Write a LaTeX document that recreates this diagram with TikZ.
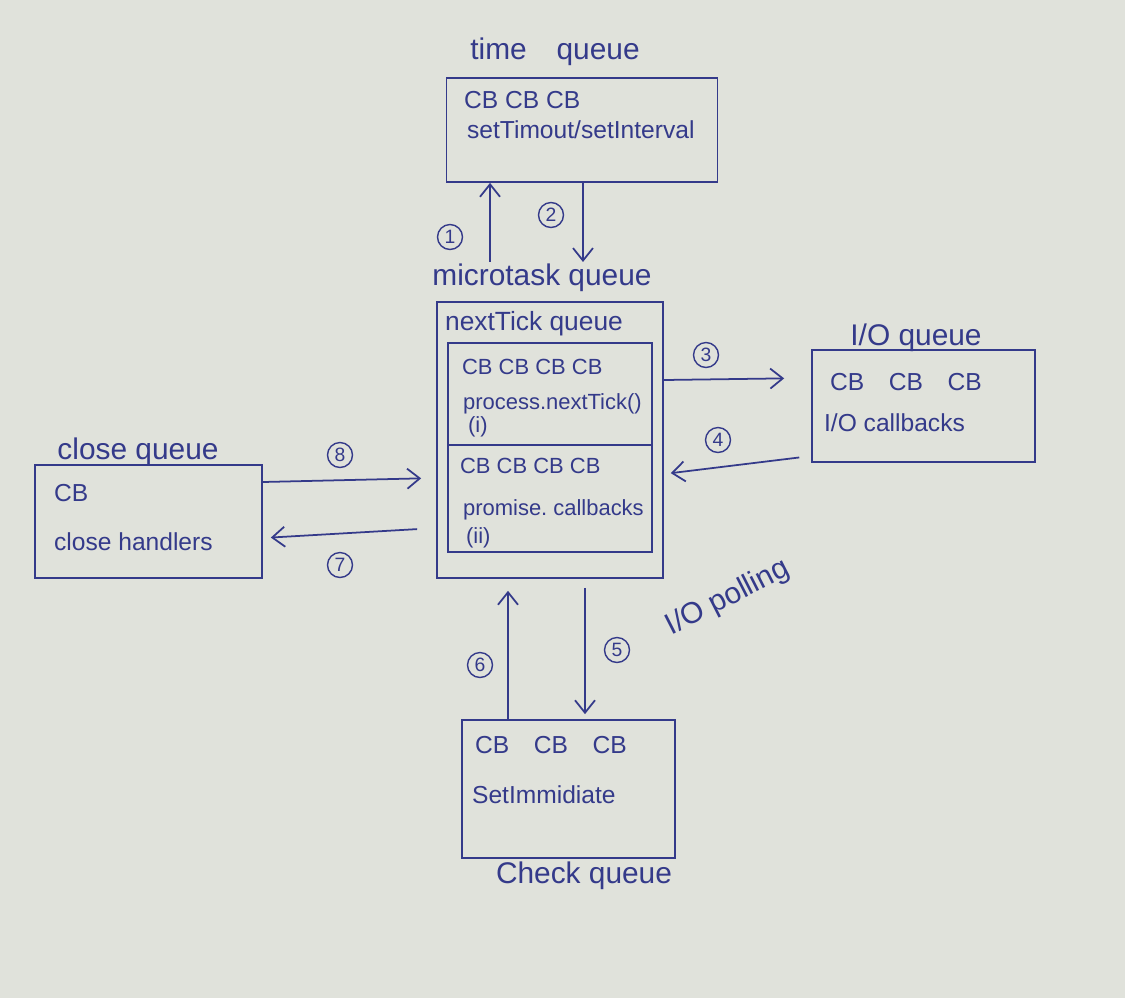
\documentclass[tikz,border=0pt]{standalone}
\usepackage{fontspec}
\setmainfont{Liberation Sans}
\usetikzlibrary{arrows.meta, positioning}
\definecolor{ink}{RGB}{52,58,138}
\definecolor{paper}{RGB}{224,226,219}
\frenchspacing
\tikzset{
    qbox/.style={draw=ink, line width=1pt, inner sep=0pt},
    lbl/.style={text=ink, font=\fontsize{17}{20}\selectfont, inner sep=1pt},
    txt/.style={text=ink, font=\fontsize{14}{17}\selectfont, inner sep=1pt, anchor=west},
    small/.style={txt, font=\fontsize{12.5}{15}\selectfont},
    num/.style={circle, draw=ink, line width=0.8pt, text=ink, minimum size=0.5cm,
        inner sep=0pt, font=\fontsize{11}{12}\selectfont},
    arr/.style={draw=ink, line width=1pt, -{Straight Barb[length=2.5mm, width=4mm]}}
}
\begin{document}
\begin{tikzpicture}[x=0.02cm, y=-0.02cm]
        \fill[paper] (0,0) rectangle (1125,998);
        \useasboundingbox (0,0) rectangle (1125,998);
        % queues
        \node (tq) at (582,130) [qbox, minimum width=5.42cm, minimum height=2.08cm] {};
        \node (mq) at (550,440) [qbox, minimum width=4.52cm, minimum height=5.52cm] {};
        \node (nt) at (550,394) [qbox, minimum width=4.08cm, minimum height=2.04cm] {};
        \node (pr) at (550,498.5) [qbox, minimum width=4.08cm, minimum height=2.14cm] {};
        \node (io) at (923.5,406) [qbox, minimum width=4.46cm, minimum height=2.24cm] {};
        \node (cq) at (148.5,521.5) [qbox, minimum width=4.54cm, minimum height=2.26cm] {};
        \node (ck) at (568.5,789) [qbox, minimum width=4.26cm, minimum height=2.76cm] {};
        % labels
        \node (tl) at (555,52) [lbl] {time\quad queue};
        \node (ml) at (542,278) [lbl] {microtask queue};
        \node (ntl) at (443,324) [lbl, anchor=west, font=\fontsize{15}{18}\selectfont] {nextTick queue};
        \node (iol) at (916,338) [lbl] {I/O queue};
        \node (cql) at (138,452) [lbl] {close queue};
        \node (ckl) at (584,876) [lbl] {Check queue};
        \node (poll) at (728,598) [lbl, rotate=27] {I/O polling};
        % box contents
        \node (tcb) at (462,100) [txt] {CB CB CB};
        \node (tfn) at (465,130) [txt] {setTimout/setInterval};
        \node (ncb) at (460,367) [small] {CB CB CB CB};
        \node (nfn) at (461,404) [small] {process.nextTick()};
        \node (ni) at (466,427) [small] {(i)};
        \node (pcb) at (458,466) [small] {CB CB CB CB};
        \node (pfn) at (461,510) [small] {promise. callbacks};
        \node (pii) at (464,538) [small] {(ii)};
        \node (iocb) at (828,382) [txt] {CB\quad CB\quad CB};
        \node (iofn) at (822,423) [txt] {I/O callbacks};
        \node (ccb) at (52,493) [txt] {CB};
        \node (cfn) at (52,542) [txt] {close handlers};
        \node (kcb) at (473,745) [txt] {CB\quad CB\quad CB};
        \node (kfn) at (470,795) [txt] {SetImmidiate};
        % steps
        \node (n1) at (450,237) [num] {1};
        \node (n2) at (551,215) [num] {2};
        \node (n3) at (706,355) [num] {3};
        \node (n4) at (718,440) [num] {4};
        \node (n5) at (617,650) [num] {5};
        \node (n6) at (480,665) [num] {6};
        \node (n7) at (340,565) [num] {7};
        \node (n8) at (340,455) [num] {8};
        % arrows
        \draw[arr] (ml.north -| 490,0) -- (tq.south -| 490,0);
        \draw[arr] (tq.south -| 583,0) -- (ml.north -| 583,0);
        \draw[arr, shorten >=0.54cm] (mq.east |- 0,380) -- (io.west |- 0,378);
        \draw[arr, shorten <=0.24cm, shorten >=0.14cm] (io.west |- 0,456) -- (mq.east |- 0,474);
        \draw[arr, shorten >=0.3cm] (cq.east |- 0,482) -- (mq.west |- 0,478);
        \draw[arr, shorten <=0.38cm, shorten >=0.16cm] (mq.west |- 0,528) -- (cq.east |- 0,538);
        \draw[arr, shorten >=0.24cm] (ck.north -| 508,0) -- (mq.south -| 508,0);
        \draw[arr, shorten <=0.18cm, shorten >=0.1cm] (mq.south -| 585,0) -- (ck.north -| 585,0);
\end{tikzpicture}
\end{document}
